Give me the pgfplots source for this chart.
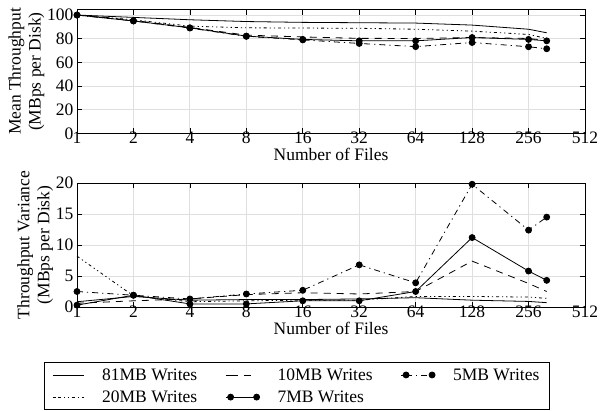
\documentclass[border=0pt]{standalone}
\usepackage{fontspec}
\setmainfont{Liberation Serif}
\usepackage{pgfplots}
\pgfplotsset{compat=1.18}
\newcommand{\ff}{\fontsize{17.5}{20}\selectfont}
\pgfplotsset{
  scale only axis, width=508pt,
  xmin=1, xmax=512,
  grid=major, major grid style={gray!25, line width=0.8pt},
  tick style={black, line width=0.6pt}, major tick length=5pt,
  axis line style={line width=0.9pt},
  /pgf/number format/assume math mode=true,
  tick label style={font=\ff},
  label style={font=\ff},
  every axis plot/.append style={black, line width=0.8pt, mark options={solid, fill=black}, mark size=3pt},
}
\pgfplotsset{legend image code/.code={\path (0pt,0pt) -- (5pt,0pt); \draw[#1] plot coordinates {(5pt,0pt) (31pt,0pt)};}}
\tikzset{
  s81/.style={solid},
  s10/.style={dash pattern=on 7pt off 6pt},
  s5/.style={dash pattern=on 6pt off 4pt on 1.2pt off 4pt, mark=*},
  s20/.style={dash pattern=on 3pt off 3pt on 1.2pt off 3pt on 1.2pt off 3pt},
  s7/.style={solid, mark=*},
}
\begin{document}
\begin{tikzpicture}
\useasboundingbox (0pt,0pt) rectangle (600pt,-410pt);
\begin{axis}[xmode=log, log basis x=2,
  xtick={1,2,4,8,16,32,64,128,256,512},
  xticklabels={1,2,4,8,16,32,64,128,256,512},
  xticklabel style={yshift=5pt},
  xlabel={Number of Files}, xlabel style={yshift=2pt},
  ylabel style={align=center, yshift=-4pt},
  at={(77pt,-133.4pt)}, anchor=south west, height=123.7pt,
  ymin=0, ymax=104.5, ytick={0,20,40,60,80,100},
  ylabel={Mean Throughput\\(MBps per Disk)}]
\addplot[s81] coordinates {(1,100) (2,98) (4,96) (8,94.5) (16,93.8) (32,93.5) (64,93.2) (128,91.5) (256,88) (320,85)};
\addplot[s10] coordinates {(1,100) (2,95.5) (4,89.5) (8,83) (16,81.5) (32,80.3) (64,80.2) (128,81) (256,80.2) (320,78.5)};
\addplot[s5] coordinates {(1,100) (2,95) (4,89) (8,82) (16,79) (32,76) (64,73.3) (128,76.8) (256,73.2) (320,71.5)};
\addplot[s20] coordinates {(1,100) (2,96) (4,90.6) (8,89.2) (16,89) (32,88.8) (64,88) (128,86.4) (256,83.6) (320,80.2)};
\addplot[s7] coordinates {(1,100) (2,95) (4,89.2) (8,82.2) (16,79.4) (32,78.2) (64,78.2) (128,81) (256,79.4) (320,78.2)};
\end{axis}
\begin{axis}[xmode=log, log basis x=2,
  xtick={1,2,4,8,16,32,64,128,256,512},
  xticklabels={1,2,4,8,16,32,64,128,256,512},
  xticklabel style={yshift=5pt},
  xlabel={Number of Files}, xlabel style={yshift=2pt},
  ylabel style={align=center, yshift=-4pt},
  at={(77pt,-307pt)}, anchor=south west, height=124pt,
  ymin=0, ymax=20, ytick={0,5,10,15,20},
  ylabel={Throughput Variance\\(MBps per Disk)},
  legend columns=3,
  legend cell align=left,
  legend style={at={(-0.065,-0.4435)}, anchor=north west, draw=black, line width=0.8pt,
    font=\ff, inner xsep=8pt, inner ysep=4pt, row sep=5pt,
    /tikz/every odd column/.append style={column sep=16pt},
    /tikz/every even column/.append style={column sep=26pt}}]
\addplot[s81] coordinates {(1,0.85) (2,1.7) (4,1.1) (8,1.2) (16,1.2) (32,1.3) (64,1.5) (128,1.1) (256,0.9) (320,0.7)};
\addlegendentry{81MB Writes}
\addplot[s10] coordinates {(1,0.6) (2,1.0) (4,1.3) (8,2.0) (16,2.3) (32,2.1) (64,2.5) (128,7.4) (256,3.8) (320,2.5)};
\addlegendentry{10MB Writes}
\addplot[s5] coordinates {(1,2.5) (2,1.9) (4,1.3) (8,2.1) (16,2.7) (32,6.8) (64,3.9) (128,19.8) (256,12.4) (320,14.5)};
\addlegendentry{5MB Writes}
\addplot[s20] coordinates {(1,8.2) (2,1.8) (4,0.85) (8,1.0) (16,1.1) (32,1.1) (64,1.7) (128,1.7) (256,1.6) (320,1.4)};
\addlegendentry{20MB Writes}
\addplot[s7] coordinates {(1,0.3) (2,1.9) (4,0.5) (8,0.5) (16,1.0) (32,1.0) (64,2.5) (128,11.2) (256,5.8) (320,4.3)};
\addlegendentry{7MB Writes}
\end{axis}
\end{tikzpicture}
\end{document}
